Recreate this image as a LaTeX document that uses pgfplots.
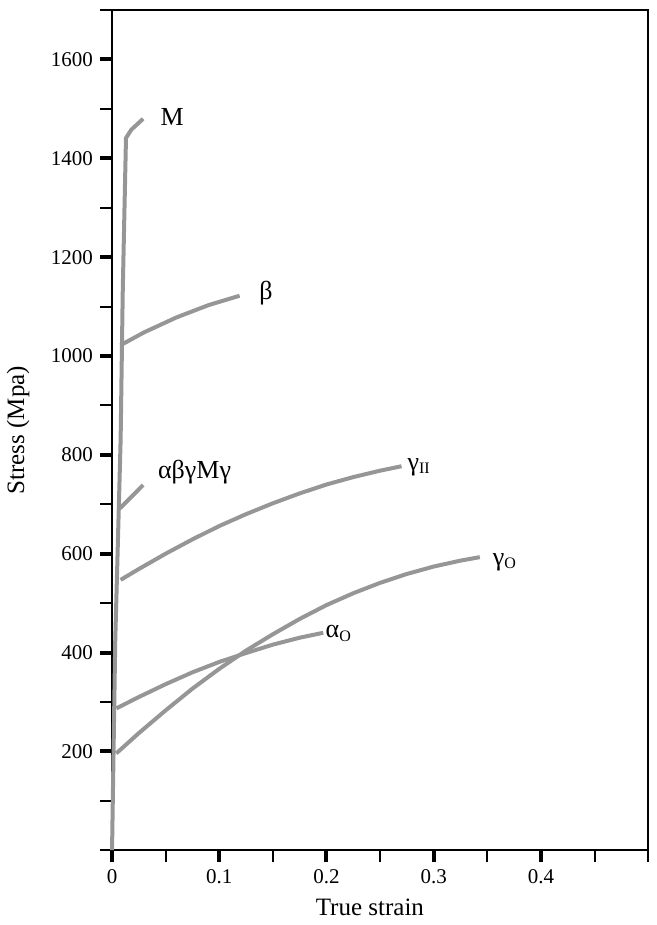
\documentclass[border=0pt]{standalone}
\usepackage{pgfplots}
\pgfplotsset{compat=1.18}
\usepackage{fontspec}
\setmainfont{Liberation Serif}
\definecolor{cg}{RGB}{150,150,150}
\tikzset{curve/.style={color=cg, solid, line width=2pt, line join=round, line cap=butt, mark=none}}
\begin{document}
\begin{tikzpicture}
\begin{axis}[
  scale only axis, width=268pt, height=420pt,
  xmin=0, xmax=0.5, ymin=0, ymax=1700,
  axis line style={line width=1.2pt},
  axis x line*=bottom, axis y line*=left,
  clip=false,
  tick align=outside,
  xtick={0,0.1,0.2,0.3,0.4},
  xticklabels={0,0.1,0.2,0.3,0.4},
  minor xtick={0.05,0.15,0.25,0.35,0.45,0.5},
  ytick={200,400,600,800,1000,1200,1400,1600},
  minor ytick={0,100,300,500,700,900,1100,1300,1500,1700},
  major tick length=6pt, minor tick length=6pt,
  major tick style={line width=2pt, black},
  minor tick style={line width=1pt, black},
  tick label style={font=\fontsize{10.5}{12}\selectfont},
  /pgf/number format/assume math mode=true,
  /pgf/number format/1000 sep={},
  scaled x ticks=false,
  xlabel={True strain}, ylabel={Stress (Mpa)},
  label style={font=\fontsize{12.5}{14}\selectfont},
  xlabel style={at={(rel axis cs:0.481,-0.068)}, anchor=center},
  ylabel style={at={(rel axis cs:-0.175,0.5)}, anchor=center},
]
% right and top frame lines
\draw[line width=1.2pt] (rel axis cs:0,1) -- (rel axis cs:1,1) -- (rel axis cs:1,0);
% M (elastic line)
\addplot[curve] coordinates {(0,0) (0.003,425) (0.008,830) (0.010,1133) (0.013,1441) (0.018,1458) (0.024,1470) (0.029,1480)};
% beta
\addplot[curve] coordinates {(0.008,1022) (0.03,1048) (0.06,1078) (0.09,1103) (0.119,1122)};
% alpha beta gamma M gamma
\addplot[curve] coordinates {(0.0075,692) (0.029,739)};
% gamma II
\addplot[curve] coordinates {(0.008,547) (0.025,569) (0.05,600) (0.075,629) (0.1,656) (0.125,680) (0.15,702) (0.175,722) (0.2,740) (0.225,755) (0.25,768) (0.27,777)};
% gamma O
\addplot[curve] coordinates {(0.004,196) (0.025,237) (0.05,283) (0.075,327) (0.1,367) (0.125,404) (0.15,437) (0.175,468) (0.2,496) (0.225,520) (0.25,541) (0.275,559) (0.3,574) (0.325,586) (0.343,593)};
% alpha O
\addplot[curve] coordinates {(0.004,287) (0.025,310) (0.05,336) (0.075,360) (0.1,381) (0.125,399) (0.15,416) (0.175,430) (0.197,440)};
\node[font=\fontsize{13}{15}\selectfont] at (axis cs:0.056,1484) {M};
\node[font=\fontsize{13}{15}\selectfont] at (axis cs:0.1435,1128) {β};
\node[font=\fontsize{13}{15}\selectfont] at (axis cs:0.077,765) {αβγMγ};
\node[font=\fontsize{13}{15}\selectfont] at (axis cs:0.286,775) {γ\raisebox{-0.3ex}{\fontsize{8}{8}\selectfont II}};
\node[font=\fontsize{13}{15}\selectfont] at (axis cs:0.366,583) {γ\raisebox{-0.3ex}{\fontsize{8}{8}\selectfont O}};
\node[font=\fontsize{13}{15}\selectfont] at (axis cs:0.211,439) {α\raisebox{-0.3ex}{\fontsize{8}{8}\selectfont O}};
\coordinate (bl) at (rel axis cs:-0.209,-0.089);
\coordinate (tr) at (rel axis cs:1.015,1.012);
\end{axis}
\pgfresetboundingbox
\path (bl) rectangle (tr);
\end{tikzpicture}
\end{document}
